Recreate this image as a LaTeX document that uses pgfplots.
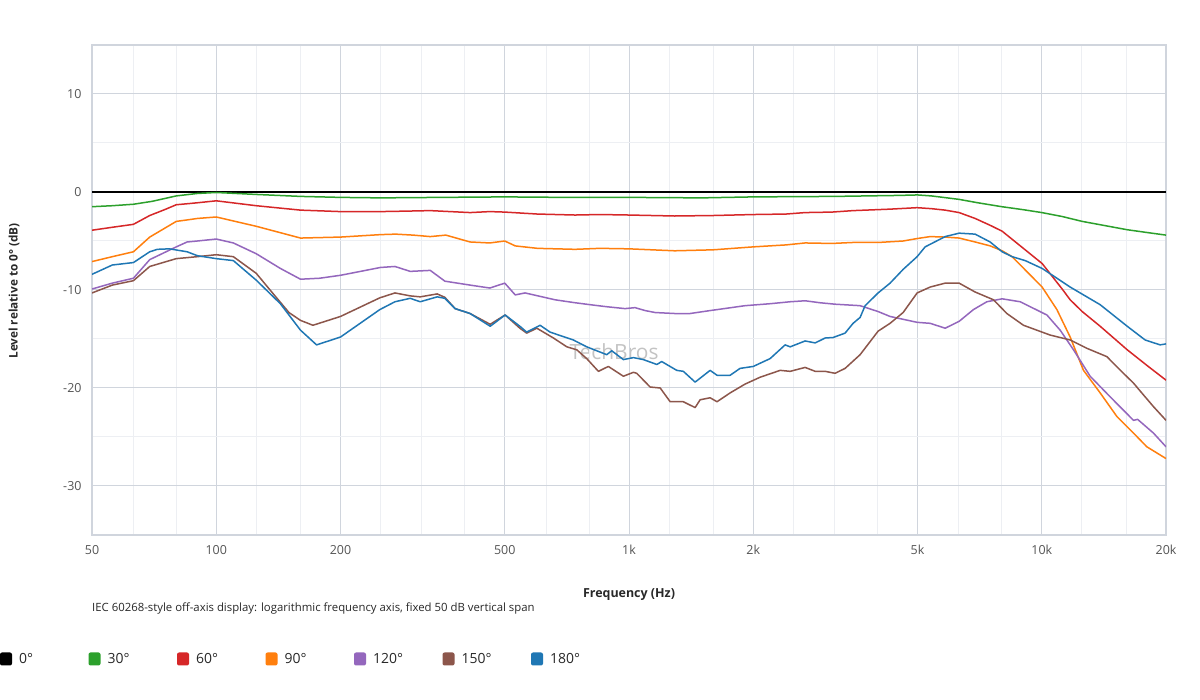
\documentclass[border=0pt]{standalone}
\usepackage{pgfplots}
\pgfplotsset{compat=1.18}
\usepackage{fontspec}
\setmainfont{Open Sans}
\definecolor{c30}{HTML}{2CA02C}
\definecolor{c60}{HTML}{D62728}
\definecolor{c90}{HTML}{FF7F0E}
\definecolor{c120}{HTML}{9467BD}
\definecolor{c150}{HTML}{8C564B}
\definecolor{c180}{HTML}{1F77B4}
\definecolor{gmaj}{RGB}{208,213,221}
\definecolor{gmin}{RGB}{237,239,243}
\definecolor{tickc}{RGB}{85,85,85}
\definecolor{txt}{RGB}{40,40,40}
\definecolor{wm}{RGB}{195,195,195}
\begin{document}
\begin{tikzpicture}
\useasboundingbox (0bp,0bp) rectangle (1200bp,700bp);
\fill[white] (0bp,0bp) rectangle (1200bp,700bp);
\node[text=wm, font=\fontsize{21}{24}\selectfont] at (614bp,348bp) {TechBros};
\begin{axis}[at={(92bp,165bp)}, anchor=south west, scale only axis,
  width=1074bp, height=490bp,
  xmode=log, xmin=50, xmax=20000, ymin=-35, ymax=15,
  xtick={50,100,200,500,1000,2000,5000,10000,20000},
  xticklabels={50,100,200,500,1k,2k,5k,10k,20k},
  minor xtick={63,80,125,160,250,315,400,630,800,1250,1600,2500,3150,4000,6300,8000,12500,16000},
  ytick={-30,-20,-10,0,10}, yticklabels={-30,-20,-10,0,10},
  minor ytick={-25,-15,-5,5},
  grid=both,
  major grid style={draw=gmaj, line width=1bp},
  minor grid style={draw=gmin, line width=1bp},
  major tick length=0pt, minor tick length=0pt,
  axis line style={draw=gmaj, line width=1.5bp},
  tick label style={text=tickc, font=\fontsize{12.5}{14}\selectfont},
  xticklabel style={yshift=-7bp},
  yticklabel style={xshift=-7bp},
  no markers,
  every axis plot/.append style={line width=1.5bp, line join=round},
]
\addplot[black, line width=2.8bp] coordinates {(50,0) (20000,0)};
\addplot[c30] coordinates {(50,-1.5) (56,-1.4) (63,-1.25) (70,-0.95) (80,-0.4) (90,-0.15) (100,-0.05) (125,-0.25) (160,-0.45) (200,-0.55) (250,-0.6) (350,-0.55) (500,-0.5) (700,-0.55) (1000,-0.55) (1500,-0.6) (2000,-0.5) (3150,-0.45) (4500,-0.35) (5000,-0.3) (5400,-0.4) (6300,-0.75) (7000,-1.1) (8000,-1.5) (9000,-1.8) (10000,-2.1) (11200,-2.5) (12530,-3.0) (14100,-3.4) (16100,-3.85) (18100,-4.15) (20000,-4.4)};
\addplot[c60] coordinates {(50,-3.9) (56,-3.6) (63,-3.3) (69,-2.4) (75,-1.8) (80,-1.3) (85,-1.2) (90,-1.1) (100,-0.9) (125,-1.4) (160,-1.85) (200,-2.0) (250,-2.0) (290,-1.95) (330,-1.9) (412,-2.1) (460,-2.0) (500,-2.05) (600,-2.25) (740,-2.35) (850,-2.3) (1000,-2.35) (1290,-2.45) (1600,-2.4) (2000,-2.3) (2400,-2.25) (2671,-2.1) (3100,-2.05) (3491,-1.9) (4290,-1.75) (4989,-1.6) (5400,-1.7) (5834,-1.85) (6306,-2.1) (6895,-2.7) (7500,-3.4) (8016,-4.0) (9115,-5.9) (10020,-7.3) (11205,-9.9) (11716,-11.0) (12530,-12.2) (13850,-13.7) (16107,-16.1) (18110,-17.8) (20000,-19.2)};
\addplot[c90] coordinates {(50,-7.1) (56,-6.6) (63,-6.1) (69,-4.6) (75,-3.7) (80,-3.0) (85,-2.85) (90,-2.7) (100,-2.55) (125,-3.5) (160,-4.7) (200,-4.6) (250,-4.35) (272,-4.3) (300,-4.4) (330,-4.55) (360,-4.4) (412,-5.1) (460,-5.2) (500,-5.0) (530,-5.5) (600,-5.75) (740,-5.85) (850,-5.75) (1000,-5.8) (1290,-6.0) (1600,-5.9) (2000,-5.6) (2400,-5.4) (2671,-5.2) (3100,-5.25) (3491,-5.15) (4013,-5.15) (4614,-5.0) (4989,-4.75) (5365,-4.55) (5834,-4.6) (6306,-4.7) (6895,-5.1) (7500,-5.5) (8016,-6.0) (8476,-6.6) (10020,-9.7) (10880,-12.0) (11716,-14.8) (12620,-18.2) (13850,-20.5) (15200,-22.9) (16680,-24.6) (17970,-26.0) (20000,-27.2)};
\addplot[c120] coordinates {(50,-9.9) (56,-9.3) (63,-8.8) (69,-6.9) (80,-5.6) (85,-5.1) (90,-5.0) (100,-4.8) (110,-5.2) (125,-6.3) (143,-7.8) (160,-8.9) (178,-8.8) (200,-8.5) (250,-7.7) (271,-7.6) (295,-8.1) (330,-8.0) (358,-9.1) (412,-9.5) (460,-9.8) (500,-9.3) (530,-10.5) (560,-10.3) (662,-11.0) (740,-11.3) (805,-11.5) (880,-11.7) (978,-11.9) (1034,-11.8) (1094,-12.1) (1157,-12.3) (1290,-12.4) (1406,-12.4) (1572,-12.1) (1700,-11.9) (1911,-11.6) (2197,-11.4) (2457,-11.2) (2671,-11.1) (2900,-11.3) (3157,-11.45) (3630,-11.6) (4013,-12.2) (4290,-12.7) (4989,-13.3) (5365,-13.4) (5834,-13.9) (6306,-13.2) (6830,-12.0) (7360,-11.2) (8016,-10.9) (8866,-11.2) (10290,-12.55) (11080,-14.1) (11935,-16.1) (13096,-18.8) (14645,-20.9) (16680,-23.3) (17070,-23.2) (18645,-24.6) (20000,-26.0)};
\addplot[c150] coordinates {(50,-10.3) (56,-9.5) (63,-9.05) (69,-7.6) (80,-6.8) (90,-6.6) (100,-6.4) (110,-6.6) (125,-8.3) (135,-10.0) (150,-12.3) (160,-13.1) (171.5,-13.6) (200,-12.7) (249,-10.8) (271,-10.3) (295,-10.6) (312,-10.7) (343,-10.4) (358,-10.75) (379,-11.9) (412,-12.4) (461,-13.5) (501,-12.55) (544,-13.9) (565,-14.4) (598,-13.9) (656,-14.9) (707,-15.8) (747,-16.1) (790,-17.0) (843,-18.3) (891,-17.8) (969,-18.8) (1025,-18.4) (1044,-18.5) (1125,-19.9) (1190,-20.0) (1258,-21.4) (1354,-21.4) (1446,-22.0) (1487,-21.2) (1572,-21.0) (1634,-21.4) (1758,-20.5) (1911,-19.6) (2078,-18.9) (2324,-18.2) (2457,-18.3) (2671,-17.9) (2825,-18.3) (2986,-18.3) (3157,-18.5) (3338,-18.0) (3630,-16.6) (4013,-14.2) (4290,-13.4) (4614,-12.3) (4989,-10.3) (5365,-9.7) (5834,-9.3) (6306,-9.3) (6890,-10.2) (7640,-11.0) (8230,-12.4) (9030,-13.6) (10480,-14.6) (11716,-15.1) (12860,-15.95) (14375,-16.8) (15770,-18.5) (16680,-19.5) (17630,-20.7) (18645,-21.9) (20000,-23.3)};
\addplot[c180] coordinates {(50,-8.4) (56,-7.45) (63,-7.2) (69,-6.1) (72,-5.85) (77,-5.8) (85,-6.1) (90,-6.5) (100,-6.8) (110,-7.0) (125,-9.0) (143,-11.4) (160,-14.1) (175,-15.6) (200,-14.8) (249,-12.0) (271,-11.2) (295,-10.85) (312,-11.2) (343,-10.7) (358,-10.85) (379,-11.9) (412,-12.4) (461,-13.7) (501,-12.55) (544,-13.7) (565,-14.3) (609,-13.6) (644,-14.3) (733,-15.1) (790,-15.8) (883,-16.6) (908,-16.2) (969,-17.1) (1025,-16.9) (1083,-17.1) (1168,-17.6) (1200,-17.3) (1305,-18.2) (1354,-18.3) (1446,-19.4) (1487,-19.0) (1572,-18.2) (1634,-18.7) (1758,-18.7) (1858,-18.0) (2000,-17.8) (2197,-17.0) (2389,-15.6) (2457,-15.8) (2671,-15.2) (2825,-15.4) (2986,-14.9) (3122,-14.85) (3338,-14.4) (3491,-13.4) (3630,-12.8) (3733,-11.6) (4013,-10.3) (4290,-9.3) (4614,-7.9) (4989,-6.6) (5217,-5.6) (5834,-4.55) (6306,-4.2) (6895,-4.3) (7497,-5.1) (8016,-6.1) (8476,-6.6) (9115,-7.0) (10020,-7.8) (11716,-9.7) (13850,-11.5) (16107,-13.7) (17800,-15.1) (19350,-15.6) (20000,-15.5)};
\end{axis}
\node[text=txt, font=\bfseries\fontsize{12.5}{15}\selectfont] at (629bp,105bp) {Frequency (Hz)};
\node[text=txt, rotate=90, font=\bfseries\fontsize{11.8}{14}\selectfont] at (14bp,409bp) {Level relative to 0° (dB)};
\node[anchor=west, inner sep=0pt, text=txt, font=\fontsize{11.4}{13}\selectfont] at (92bp,91bp) {IEC 60268-style off-axis display: logarithmic frequency axis, fixed 50 dB vertical span};
\foreach \px/\cc/\ll in {0/black/0°, 88.5/c30/30°, 177/c60/60°, 265.5/c90/90°, 354/c120/120°, 442.5/c150/150°, 531/c180/180°}{
  \fill[\cc, rounded corners=2bp] (\px bp,34.5bp) rectangle ++(12bp,13bp);
  \node[anchor=west, inner sep=0pt, text=txt, font=\fontsize{14}{16}\selectfont] at (\px bp+19bp,41bp) {\ll};
}
\end{tikzpicture}
\end{document}
